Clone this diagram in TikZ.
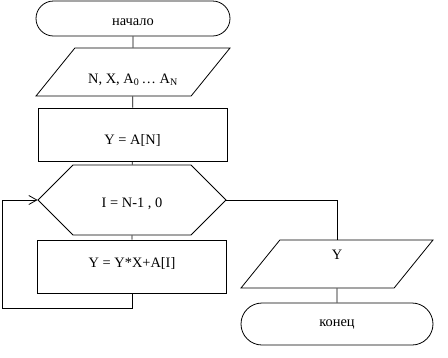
\documentclass[tikz,border=0pt]{standalone}
\usepackage{fontspec}
\setmainfont{Liberation Serif}
\usetikzlibrary{shapes.geometric,shapes.misc,arrows.meta}
\tikzset{
  terminal/.style={draw, rounded rectangle, minimum width=194pt, minimum height=35pt, inner sep=0pt},
  inout/.style={draw, trapezium, trapezium left angle=51, trapezium right angle=129,
    trapezium stretches body, minimum width=194pt, inner sep=0pt},
  process/.style={draw, rectangle, minimum width=189pt, minimum height=53pt, inner sep=0pt},
  loophead/.style={draw, chamfered rectangle, chamfered rectangle xsep=37pt,
    chamfered rectangle ysep=28pt, minimum width=188pt, minimum height=56pt, inner sep=0pt},
  flow/.style={line width=0.8pt}
}
\begin{document}
\begin{tikzpicture}[x=1pt,y=-1pt,line width=0.8pt,font=\fontsize{14.4}{17}\selectfont]
            \useasboundingbox (0,0) rectangle (448,357);
            \node [terminal, text height=13pt, text depth=0pt] (start) at (133,18.5) {начало};
            \node [inout, text height=35pt, text depth=13pt] (data) at (133,72) {N, X, A\textsubscript{0}\,\dots\ A\textsubscript{N}};
            \node [process, text height=19pt, text depth=0pt] (init) at (132.5,134.5) {Y = A[N]};
            \node [loophead, text height=14pt, text depth=0pt] (cycle) at (132,200) {I = N-1 , 0};
            \node [process, text height=10pt, text depth=8pt] (step) at (132,266.5) {Y = Y*X+A[I]};
            \node [inout, minimum width=192pt, text height=19pt, text depth=29pt] (result) at (337,264) {Y};
            \node [terminal, minimum width=192pt, minimum height=42pt] (stop) at (337,324) {конец};
            \draw (start) -- (data);
            \draw (data) -- (init);
            \draw (init) -- (cycle);
            \draw (cycle) -- (step);
            \draw [-{Straight Barb[length=8pt,width=9pt]}] (step.south) -- ++(0,15) -| (2,200) -- (cycle.west);
            \draw (cycle.east) -| (result.north);
            \draw (result) -- (stop);
        \end{tikzpicture}
\end{document}
